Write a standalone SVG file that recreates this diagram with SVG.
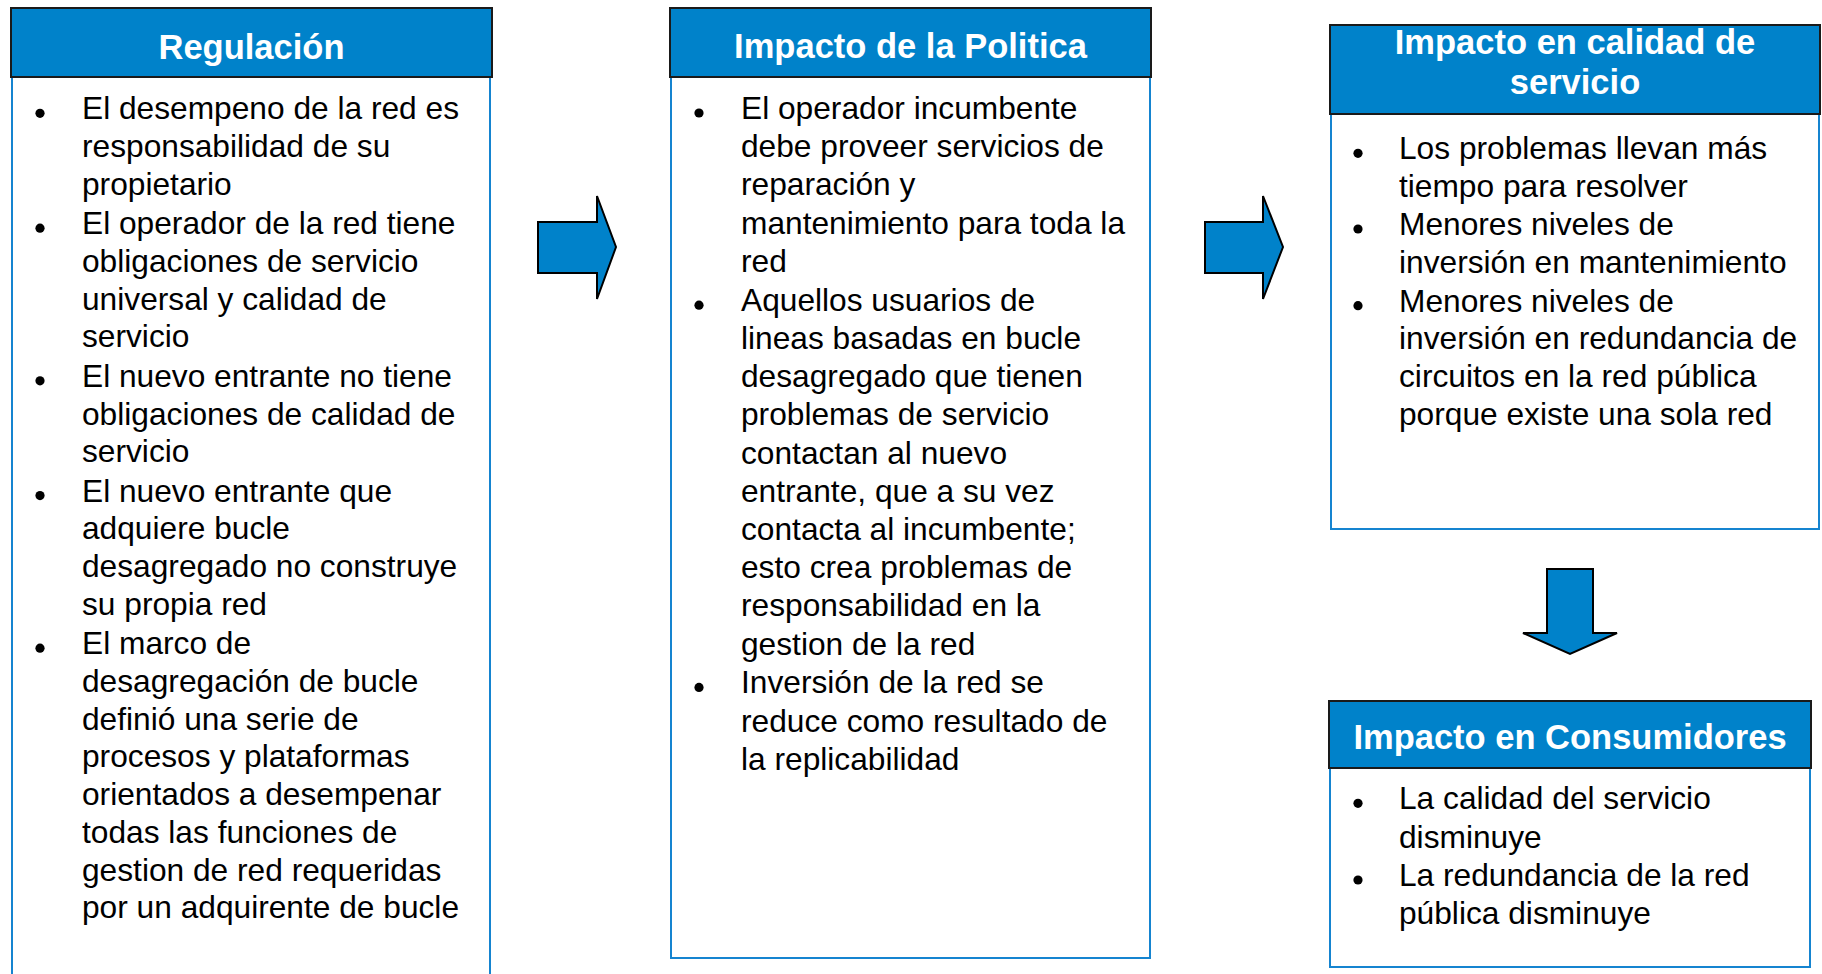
<svg xmlns="http://www.w3.org/2000/svg" width="1822" height="974" viewBox="0 0 1822 974">
<style>
.hdr{fill:#0082CA;stroke:#1a1a1a;stroke-width:2}
.body{fill:#ffffff;stroke:#1584D0;stroke-width:2}
.ttl{font-family:"Liberation Sans",Arial,sans-serif;font-weight:bold;font-size:34.5px;fill:#ffffff;text-anchor:middle}
.txt{font-family:"Liberation Sans",Arial,sans-serif;font-size:31.7px;fill:#000000}
.dot{fill:#000000}
.arr{fill:#0082CA;stroke:#000000;stroke-width:2;stroke-linejoin:miter}
</style>
<rect width="1822" height="974" fill="#ffffff"/>

<g id="regulacion">
<rect class="body" x="12" y="77" width="478" height="910"/>
<rect class="hdr" x="11" y="8" width="481" height="69"/>
<text class="ttl" x="251.5" y="59.3">Regulación</text>
<circle class="dot" cx="40" cy="113.3" r="4.6"/>
<circle class="dot" cx="40" cy="228.2" r="4.6"/>
<circle class="dot" cx="40" cy="380.8" r="4.6"/>
<circle class="dot" cx="40" cy="495.6" r="4.6"/>
<circle class="dot" cx="40" cy="648.2" r="4.6"/>
<text class="txt" x="82">
<tspan x="82" y="119.3">El desempeno de la red es</tspan>
<tspan x="82" y="157.05">responsabilidad de su</tspan>
<tspan x="82" y="194.8">propietario</tspan>
<tspan x="82" y="234.15">El operador de la red tiene</tspan>
<tspan x="82" y="271.9">obligaciones de servicio</tspan>
<tspan x="82" y="309.65">universal y calidad de</tspan>
<tspan x="82" y="347.4">servicio</tspan>
<tspan x="82" y="386.75">El nuevo entrante no tiene</tspan>
<tspan x="82" y="424.5">obligaciones de calidad de</tspan>
<tspan x="82" y="462.25">servicio</tspan>
<tspan x="82" y="501.6">El nuevo entrante que</tspan>
<tspan x="82" y="539.35">adquiere bucle</tspan>
<tspan x="82" y="577.1">desagregado no construye</tspan>
<tspan x="82" y="614.85">su propia red</tspan>
<tspan x="82" y="654.2">El marco de</tspan>
<tspan x="82" y="691.95">desagregación de bucle</tspan>
<tspan x="82" y="729.7">definió una serie de</tspan>
<tspan x="82" y="767.45">procesos y plataformas</tspan>
<tspan x="82" y="805.2">orientados a desempenar</tspan>
<tspan x="82" y="842.95">todas las funciones de</tspan>
<tspan x="82" y="880.7">gestion de red requeridas</tspan>
<tspan x="82" y="918.45">por un adquirente de bucle</tspan>
</text>
</g>

<g id="impacto-politica">
<rect class="body" x="671" y="77" width="479" height="881"/>
<rect class="hdr" x="670" y="8" width="481" height="69"/>
<text class="ttl" x="910.5" y="58">Impacto de la Politica</text>
<circle class="dot" cx="699" cy="113" r="4.6"/>
<circle class="dot" cx="699" cy="305.2" r="4.6"/>
<circle class="dot" cx="699" cy="687.4" r="4.6"/>
<text class="txt" x="741">
<tspan x="741" y="119">El operador incumbente</tspan>
<tspan x="741" y="157.2">debe proveer servicios de</tspan>
<tspan x="741" y="195.4">reparación y</tspan>
<tspan x="741" y="233.6">mantenimiento para toda la</tspan>
<tspan x="741" y="271.8">red</tspan>
<tspan x="741" y="310.7">Aquellos usuarios de</tspan>
<tspan x="741" y="348.9">lineas basadas en bucle</tspan>
<tspan x="741" y="387.1">desagregado que tienen</tspan>
<tspan x="741" y="425.3">problemas de servicio</tspan>
<tspan x="741" y="463.5">contactan al nuevo</tspan>
<tspan x="741" y="501.7">entrante, que a su vez</tspan>
<tspan x="741" y="539.9">contacta al incumbente;</tspan>
<tspan x="741" y="578.1">esto crea problemas de</tspan>
<tspan x="741" y="616.3">responsabilidad en la</tspan>
<tspan x="741" y="654.5">gestion de la red</tspan>
<tspan x="741" y="693.4">Inversión de la red se</tspan>
<tspan x="741" y="731.6">reduce como resultado de</tspan>
<tspan x="741" y="769.8">la replicabilidad</tspan>
</text>
</g>

<g id="impacto-calidad">
<rect class="body" x="1331" y="114" width="488" height="415"/>
<rect class="hdr" x="1330" y="25" width="490" height="89"/>
<text class="ttl" x="1575" y="53.5">Impacto en calidad de</text>
<text class="ttl" x="1575" y="94">servicio</text>
<circle class="dot" cx="1358" cy="153.3" r="4.6"/>
<circle class="dot" cx="1358" cy="229" r="4.6"/>
<circle class="dot" cx="1358" cy="305.7" r="4.6"/>
<text class="txt" x="1399">
<tspan x="1399" y="159.3">Los problemas llevan más</tspan>
<tspan x="1399" y="196.7">tiempo para resolver</tspan>
<tspan x="1399" y="235">Menores niveles de</tspan>
<tspan x="1399" y="272.7">inversión en mantenimiento</tspan>
<tspan x="1399" y="311.7">Menores niveles de</tspan>
<tspan x="1399" y="349.3">inversión en redundancia de</tspan>
<tspan x="1399" y="387.3">circuitos en la red pública</tspan>
<tspan x="1399" y="425">porque existe una sola red</tspan>
</text>
</g>

<g id="impacto-consumidores">
<rect class="body" x="1330" y="768" width="480" height="199"/>
<rect class="hdr" x="1329" y="701" width="482" height="67"/>
<text class="ttl" x="1570" y="749.3">Impacto en Consumidores</text>
<circle class="dot" cx="1358" cy="803.3" r="4.6"/>
<circle class="dot" cx="1358" cy="880" r="4.6"/>
<text class="txt" x="1399">
<tspan x="1399" y="809.3">La calidad del servicio</tspan>
<tspan x="1399" y="847.7">disminuye</tspan>
<tspan x="1399" y="886">La redundancia de la red</tspan>
<tspan x="1399" y="924.3">pública disminuye</tspan>
</text>
</g>

<g id="connectors">
<polygon class="arr" points="538,222 597,222 597,196 616,247 597,299 597,273 538,273"/>
<polygon class="arr" points="1205,222 1263,222 1263,196 1283,247 1263,299 1263,273 1205,273"/>
<polygon class="arr" points="1547,569 1593,569 1593,633 1617,633 1570,654 1523,633 1547,633"/>
</g>
</svg>
